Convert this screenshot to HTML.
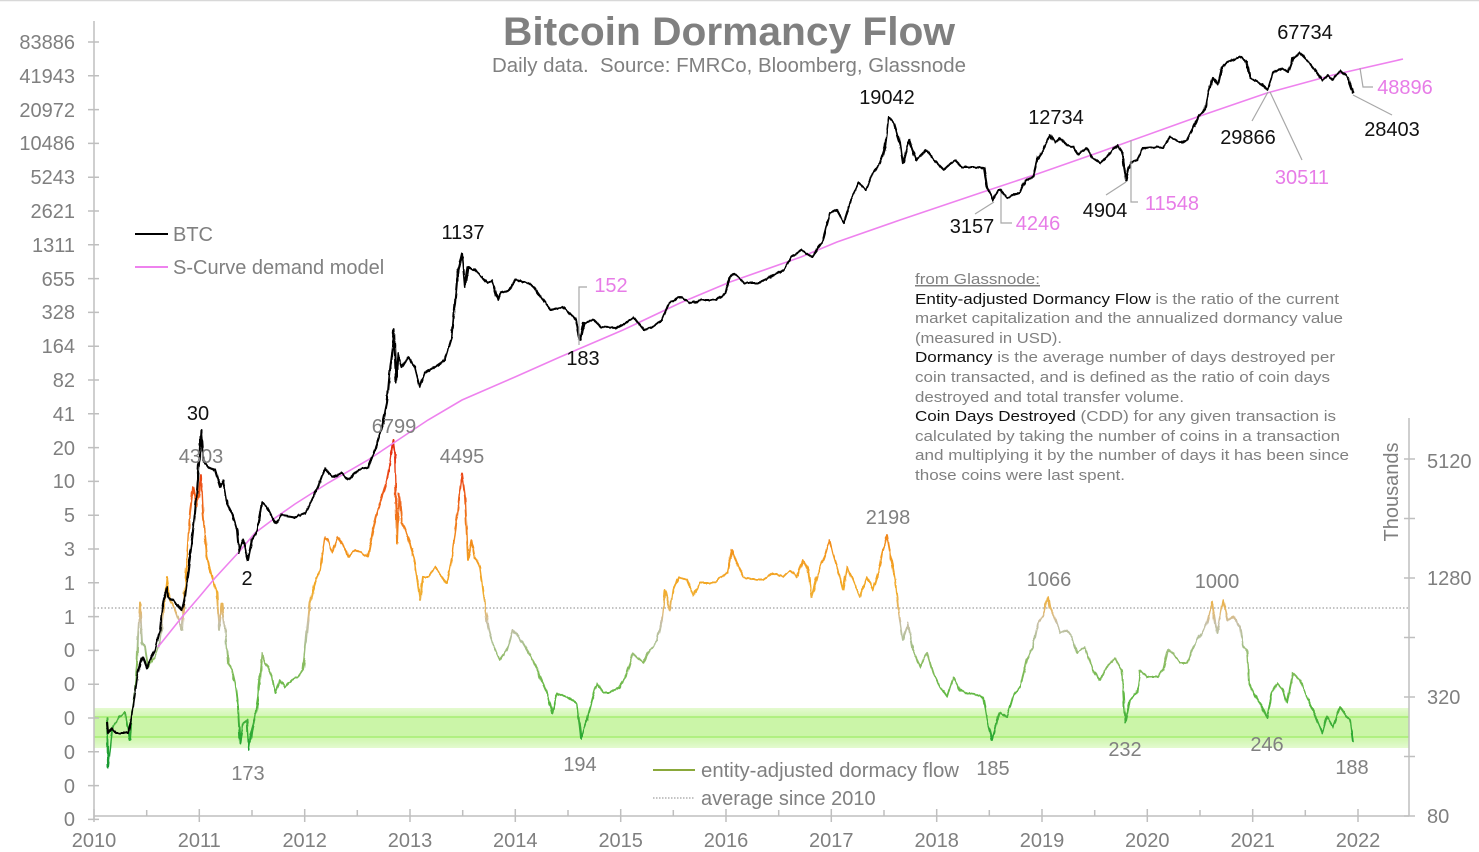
<!DOCTYPE html>
<html><head><meta charset="utf-8"><style>
html,body{margin:0;padding:0;background:#fff;}
svg{display:block;font-family:"Liberation Sans",Arial,sans-serif;}
</style></head><body>
<svg width="1479" height="852" viewBox="0 0 1479 852" xmlns="http://www.w3.org/2000/svg">
<defs>
<linearGradient id="dg" gradientUnits="userSpaceOnUse" x1="0" y1="430" x2="0" y2="780">
<stop offset="0" stop-color="#e0200e"/>
<stop offset="0.14" stop-color="#ec4a18"/>
<stop offset="0.26" stop-color="#f07a1c"/>
<stop offset="0.37" stop-color="#f39c20"/>
<stop offset="0.46" stop-color="#f2ac2a"/>
<stop offset="0.52" stop-color="#e2b870"/>
<stop offset="0.55" stop-color="#c8c0a8"/>
<stop offset="0.6" stop-color="#b0c098"/>
<stop offset="0.66" stop-color="#8cbc62"/>
<stop offset="0.77" stop-color="#5cb840"/>
<stop offset="0.88" stop-color="#28a832"/>
<stop offset="1" stop-color="#109030"/>
</linearGradient>
<linearGradient id="band" x1="0" y1="0" x2="0" y2="1">
<stop offset="0" stop-color="#e4fad0"/>
<stop offset="0.2" stop-color="#d3f7b4"/>
<stop offset="0.8" stop-color="#d3f7b4"/>
<stop offset="1" stop-color="#e4fad0"/>
</linearGradient>
<filter id="jit" x="-5%" y="-5%" width="110%" height="110%">
<feTurbulence type="fractalNoise" baseFrequency="0.25 0.08" numOctaves="2" seed="3" result="n"/>
<feDisplacementMap in="SourceGraphic" in2="n" scale="3" xChannelSelector="R" yChannelSelector="G"/>
</filter>
</defs>
<rect x="0" y="0" width="1479" height="852" fill="#fff"/>
<line x1="0" y1="0.5" x2="1479" y2="0.5" stroke="#d8d8d8" stroke-width="1.5"/>

<!-- title -->
<text x="729" y="45" text-anchor="middle" font-size="40" font-weight="bold" fill="#808080" textLength="452" lengthAdjust="spacingAndGlyphs">Bitcoin Dormancy Flow</text>
<text x="729" y="72" text-anchor="middle" font-size="20" fill="#808080" textLength="474" lengthAdjust="spacingAndGlyphs" style="white-space:pre">Daily data.  Source: FMRCo, Bloomberg, Glassnode</text>

<!-- green band -->
<rect x="94" y="708" width="1315" height="40" fill="url(#band)"/>
<rect x="94" y="717" width="1315" height="20" fill="#cbf5a8"/>
<line x1="94" y1="717" x2="1409" y2="717" stroke="#a6ee72" stroke-width="1.5"/>
<line x1="94" y1="737" x2="1409" y2="737" stroke="#a6ee72" stroke-width="1.5"/>

<!-- average dotted line -->
<line x1="94" y1="608" x2="1409" y2="608" stroke="#a0a0a0" stroke-width="1.2" stroke-dasharray="1.5,2"/>

<!-- axes -->
<g stroke="#bfbfbf" stroke-width="1.5" fill="none">
<line x1="94" y1="21" x2="94" y2="820"/>
<line x1="94" y1="816" x2="1409" y2="816"/>
<line x1="1409" y1="418" x2="1409" y2="816"/>
<path d="M88 42H99M88 75.8H99M88 109.6H99M88 143.4H99M88 177.2H99M88 211H99M88 244.8H99M88 278.6H99M88 312.4H99M88 346.2H99M88 380H99M88 413.8H99M88 447.6H99M88 481.4H99M88 515.2H99M88 549H99M88 582.8H99M88 616.6H99M88 650.4H99M88 684.2H99M88 718H99M88 751.8H99M88 785.6H99M88 819.4H99"/>
<path d="M1404 459H1415M1404 518.5H1415M1404 578H1415M1404 637.5H1415M1404 697H1415M1404 756.5H1415M1404 816H1415"/>
<path d="M94 809V822M199.3 809V822M304.7 809V822M410 809V822M515.3 809V822M620.7 809V822M726 809V822M831.3 809V822M936.7 809V822M1042 809V822M1147.3 809V822M1252.7 809V822M1358 809V822"/>
<path d="M146.7 810V816M252 810V816M357.3 810V816M462.7 810V816M568 810V816M673.3 810V816M778.7 810V816M884 810V816M989.3 810V816M1094.7 810V816M1200 810V816M1305.3 810V816"/>
</g>

<!-- left axis labels -->
<g font-size="20" fill="#7f7f7f" text-anchor="end">
<text x="75" y="49">83886</text><text x="75" y="83">41943</text><text x="75" y="117">20972</text><text x="75" y="150">10486</text><text x="75" y="184">5243</text><text x="75" y="218">2621</text><text x="75" y="252">1311</text><text x="75" y="286">655</text><text x="75" y="319">328</text><text x="75" y="353">164</text><text x="75" y="387">82</text><text x="75" y="421">41</text><text x="75" y="455">20</text><text x="75" y="488">10</text><text x="75" y="522">5</text><text x="75" y="556">3</text><text x="75" y="590">1</text><text x="75" y="624">1</text><text x="75" y="657">0</text><text x="75" y="691">0</text><text x="75" y="725">0</text><text x="75" y="759">0</text><text x="75" y="793">0</text><text x="75" y="826">0</text>
</g>
<!-- x labels -->
<g font-size="20" fill="#7f7f7f" text-anchor="middle">
<text x="94" y="847">2010</text><text x="199.3" y="847">2011</text><text x="304.7" y="847">2012</text><text x="410" y="847">2013</text><text x="515.3" y="847">2014</text><text x="620.7" y="847">2015</text><text x="726" y="847">2016</text><text x="831.3" y="847">2017</text><text x="936.7" y="847">2018</text><text x="1042" y="847">2019</text><text x="1147.3" y="847">2020</text><text x="1252.7" y="847">2021</text><text x="1358" y="847">2022</text>
</g>
<!-- right labels -->
<g font-size="20" fill="#7f7f7f">
<text x="1427" y="468">5120</text><text x="1427" y="585">1280</text><text x="1427" y="704">320</text><text x="1427" y="823">80</text>
</g>
<text transform="translate(1398,492) rotate(-90)" text-anchor="middle" font-size="20" fill="#7f7f7f">Thousands</text>

<!-- dormancy flow -->
<polyline filter="url(#jit)" fill="none" stroke="url(#dg)" stroke-width="1.9" stroke-linejoin="round" points="107,717 108,767 110,750 112,730 115,723 120,717 125,712 128,730 130,740 132,713 135,690 137,663 138,637 140,603 142,643 145,647 148,667 152,660 155,657 160,643 163,617 167,577 170,600 175,610 182,630 184,603 187,557 190,513 193,487 197,507 201,475 203,513 207,557 212,577 217,593 219,630 222,603 225,630 228,663 232,670 235,683 238,707 240,743 243,723 247,720 249,750 252,730 255,717 258,697 262,653 265,663 268,667 272,677 275,693 280,680 285,687 292,680 298,677 303,670 307,630 310,603 315,583 320,570 325,537 328,540 332,553 338,537 345,547 348,557 355,550 362,553 368,557 373,530 378,510 383,493 387,480 390,463 393,440 395,457 397,543 399,493 402,523 405,530 410,543 415,563 420,600 423,577 428,577 435,567 442,577 447,583 452,557 457,517 462,473 465,497 468,560 472,540 475,557 480,567 485,603 488,627 493,645 500,660 507,650 513,630 523,643 533,660 540,677 547,693 552,713 557,693 567,697 577,703 581,738 587,720 593,697 597,683 603,693 610,693 620,687 627,673 633,653 643,663 650,650 657,640 662,620 665,590 670,610 673,590 678,577 687,580 693,595 700,583 713,583 727,573 732,550 737,563 743,577 753,580 763,580 773,573 783,577 790,570 797,577 803,560 808,570 812,597 817,577 823,560 830,540 833,553 838,570 843,590 847,567 853,580 860,597 867,577 873,590 878,573 883,550 887,535 892,563 895,580 898,607 903,640 908,623 913,650 920,667 927,653 933,673 940,687 947,697 953,677 960,690 967,693 977,695 983,697 987,720 992,740 997,720 1000,713 1007,717 1013,697 1020,687 1027,660 1033,647 1038,623 1043,617 1048,597 1050,608 1055,617 1060,633 1067,630 1072,637 1077,653 1085,647 1093,670 1100,680 1107,667 1115,658 1122,670 1125,723 1130,700 1137,693 1140,670 1147,677 1157,677 1163,670 1168,650 1173,653 1180,663 1187,663 1192,650 1197,640 1202,633 1207,623 1212,602 1217,633 1223,600 1228,620 1233,617 1240,627 1243,647 1247,650 1249,683 1253,693 1260,703 1267,718 1272,693 1277,683 1283,690 1287,703 1293,673 1300,680 1307,697 1313,710 1322,733 1327,717 1333,727 1340,707 1347,717 1350,720 1353,742"/>

<!-- S-curve -->
<polyline fill="none" stroke="#ee82ee" stroke-width="1.6" points="158,647 170,632 182,617 200,596 215,578 238,553 255,533 275,518 295,504 328,483 368,460 395,442 428,420 462,400 515,377 560,357 623,330 680,303 730,282 801,257 837,242 900,220 980,193 1040,173 1100,152 1133,140 1200,116 1267,93 1333,75 1403,59"/>

<!-- BTC -->
<polyline filter="url(#jit)" fill="none" stroke="#000" stroke-width="2.1" stroke-linejoin="round" points="107,722 108,733 112,728 116,733 122,733 128,733 131,722 133,707 137,677 140,663 143,657 147,668 150,660 155,650 160,630 163,603 167,587 168,597 175,602 182,610 185,597 190,557 195,513 198,480 201,430 203,460 208,467 215,470 220,487 223,480 227,503 232,513 237,530 239,553 243,540 248,560 252,540 257,530 262,502 267,507 272,517 275,523 282,515 295,517 305,513 312,500 318,487 325,468 332,477 342,473 348,480 358,470 368,468 375,450 382,427 387,403 390,370 393,347 394,330 396,383 398,353 402,367 408,357 415,367 420,387 425,373 435,367 445,360 452,337 455,303 458,270 462,253 465,287 468,267 475,270 482,277 487,283 492,280 498,300 501,293 509,290 516,280 526,282 534,287 541,297 551,310 562,307 569,313 576,320 580,340 584,323 594,320 601,327 616,328 626,323 634,317 644,330 651,328 662,320 669,303 680,297 691,303 701,300 716,300 725,293 730,277 734,273 744,283 759,283 769,277 784,270 791,257 801,250 812,257 823,240 830,213 837,210 844,223 851,200 859,183 866,190 873,173 880,163 885,147 889,117 894,123 900,143 903,163 909,140 916,160 926,150 934,160 944,170 955,160 962,167 973,167 984,168 987,187 993,200 998,190 1000,190 1007,198 1020,192 1025,180 1033,177 1037,160 1043,150 1050,135 1055,143 1060,138 1067,145 1073,147 1078,155 1087,148 1093,158 1100,163 1107,157 1117,145 1122,152 1126,180 1130,163 1137,160 1143,148 1157,147 1163,148 1170,137 1180,143 1187,140 1192,130 1200,115 1205,110 1208,93 1213,78 1218,85 1222,67 1227,62 1233,60 1240,57 1247,62 1250,78 1255,80 1260,83 1268,90 1273,73 1282,68 1288,72 1293,58 1300,53 1307,60 1315,70 1322,80 1328,75 1333,80 1340,70 1348,78 1353,93"/>

<!-- leader lines -->
<g stroke="#a8a8a8" stroke-width="1.2" fill="none">
<path d="M587 287H579V345"/>
<path d="M994 202L975 214"/>
<path d="M1001 193V223H1012"/>
<path d="M1126 182L1106 195"/>
<path d="M1131 140V202H1138"/>
<path d="M1268 92L1252 121"/>
<path d="M1270 92L1302 160"/>
<path d="M1360 68L1363 87H1373"/>
<path d="M1353 95L1392 115"/>
</g>

<!-- BTC labels -->
<g font-size="20" fill="#111" text-anchor="middle">
<text x="198" y="420">30</text><text x="247" y="585">2</text><text x="463" y="239">1137</text><text x="583" y="365">183</text><text x="887" y="104">19042</text><text x="1056" y="124">12734</text><text x="972" y="233">3157</text><text x="1105" y="217">4904</text><text x="1248" y="144">29866</text><text x="1305" y="39">67734</text><text x="1392" y="136">28403</text>
</g>
<g font-size="20" fill="#e77ce7" text-anchor="middle">
<text x="611" y="292">152</text><text x="1038" y="230">4246</text><text x="1172" y="210">11548</text><text x="1302" y="184">30511</text><text x="1405" y="94">48896</text>
</g>
<g font-size="20" fill="#808080" text-anchor="middle">
<text x="201" y="463">4303</text><text x="394" y="433">6799</text><text x="462" y="463">4495</text><text x="888" y="524">2198</text><text x="1049" y="586">1066</text><text x="1217" y="588">1000</text><text x="248" y="780">173</text><text x="580" y="771">194</text><text x="993" y="775">185</text><text x="1125" y="756">232</text><text x="1267" y="751">246</text><text x="1352" y="774">188</text>
</g>

<!-- legends -->
<line x1="135" y1="234" x2="168" y2="234" stroke="#000" stroke-width="2"/>
<text x="173" y="241" font-size="20" fill="#808080">BTC</text>
<line x1="135" y1="267" x2="168" y2="267" stroke="#ee82ee" stroke-width="2"/>
<text x="173" y="274" font-size="20" fill="#808080">S-Curve demand model</text>
<line x1="653" y1="770" x2="695" y2="770" stroke="#8aa83a" stroke-width="2"/>
<text x="701" y="777" font-size="20" fill="#808080" textLength="258" lengthAdjust="spacingAndGlyphs">entity-adjusted dormacy flow</text>
<line x1="653" y1="798" x2="695" y2="798" stroke="#a0a0a0" stroke-width="1.2" stroke-dasharray="1.5,1.5"/>
<text x="701" y="805" font-size="20" fill="#808080">average since 2010</text>

<!-- annotation block -->
<g font-size="15" fill="#808080">
<text x="915" y="284" text-decoration="underline" textLength="125" lengthAdjust="spacingAndGlyphs">from Glassnode:</text>
<text x="915" y="304" textLength="424" lengthAdjust="spacingAndGlyphs"><tspan fill="#111">Entity-adjusted Dormancy Flow</tspan> is the ratio of the current</text>
<text x="915" y="323" textLength="428" lengthAdjust="spacingAndGlyphs">market capitalization and the annualized dormancy value</text>
<text x="915" y="343" textLength="147" lengthAdjust="spacingAndGlyphs">(measured in USD).</text>
<text x="915" y="362" textLength="420" lengthAdjust="spacingAndGlyphs"><tspan fill="#111">Dormancy</tspan> is the average number of days destroyed per</text>
<text x="915" y="382" textLength="415" lengthAdjust="spacingAndGlyphs">coin transacted, and is defined as the ratio of coin days</text>
<text x="915" y="402" textLength="269" lengthAdjust="spacingAndGlyphs">destroyed and total transfer volume.</text>
<text x="915" y="421" textLength="421" lengthAdjust="spacingAndGlyphs"><tspan fill="#111">Coin Days Destroyed</tspan> (CDD) for any given transaction is</text>
<text x="915" y="441" textLength="425" lengthAdjust="spacingAndGlyphs">calculated by taking the number of coins in a transaction</text>
<text x="915" y="460" textLength="434" lengthAdjust="spacingAndGlyphs">and multiplying it by the number of days it has been since</text>
<text x="915" y="480" textLength="210" lengthAdjust="spacingAndGlyphs">those coins were last spent.</text>
</g>
</svg>
</body></html>
